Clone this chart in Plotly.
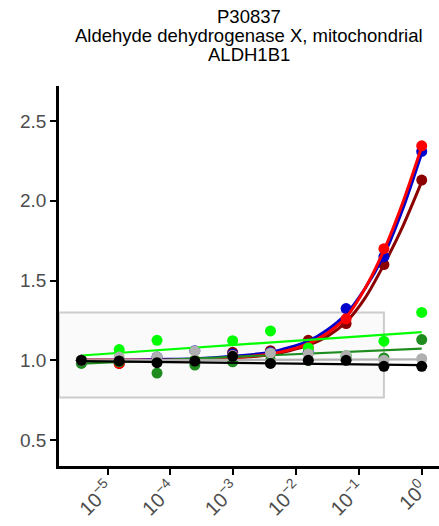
import plotly.graph_objects as go

# ---- data ----
dose_exp = [-9, -8, -7, -6, -5, -4, -3, -2, -1, 0]          # concentration = 4**exp
curve_exp = [-9, -8, -7, -6, -5, -4, -3.5, -3, -2.5, -2, -1.5, -1, -0.5, 0]

blue_pts    = [1.00, 1.00, 1.02, 1.06, 1.04, 1.05, 1.05, 1.324, 1.65, 2.31]
red_pts     = [1.00, 0.98, 1.00, 1.00, 1.03, 1.04, 1.08, 1.26, 1.70, 2.345]
darkred_pts = [1.00, 0.98, 1.00, 1.00, 1.05, 1.06, 1.125, 1.23, 1.60, 2.13]
lime_pts    = [1.00, 1.067, 1.125, 1.00, 1.123, 1.184, 1.077, 1.03, 1.12, 1.30]
green_pts   = [0.98, 0.99, 0.92, 0.97, 0.99, 1.00, 1.00, 1.02, 1.015, 1.13]
grey_pts    = [1.00, 1.02, 1.02, 1.058, 1.03, 1.046, 1.04, 1.03, 1.00, 1.01]
black_pts   = [1.00, 0.996, 0.985, 0.995, 1.025, 0.98, 1.00, 1.00, 0.962, 0.962]

blue_curve    = [1.00, 1.00, 1.005, 1.01, 1.025, 1.05, 1.08, 1.12, 1.19, 1.29, 1.45, 1.66, 1.95, 2.30]
red_curve     = [1.00, 1.00, 1.00, 1.005, 1.015, 1.04, 1.065, 1.105, 1.17, 1.27, 1.45, 1.69, 1.99, 2.34]
darkred_curve = [1.00, 1.00, 1.00, 1.005, 1.015, 1.035, 1.06, 1.095, 1.15, 1.24, 1.39, 1.60, 1.84, 2.12]

line_exp   = [-9, 0]
lime_line  = [1.03, 1.177]
green_line = [0.979, 1.073]
grey_line  = [1.00, 1.006]
black_line = [0.995, 0.969]

box_x_right_exp = -1
box_y = [0.766, 1.299]

tick_exp = [-5, -4, -3, -2, -1, 0]
tick_text = ["10<sup>−5</sup>", "10<sup>−4</sup>", "10<sup>−3</sup>",
             "10<sup>−2</sup>", "10<sup>−1</sup>", "10<sup>0</sup>"]
y_ticks = [0.5, 1.0, 1.5, 2.0, 2.5]
y_tick_text = ["0.5", "1.0", "1.5", "2.0", "2.5"]

title_lines = ["P30837", "Aldehyde dehydrogenase X, mitochondrial", "ALDH1B1"]

# ---- figure ----
dose = [4.0 ** e for e in dose_exp]
cx = [4.0 ** e for e in curve_exp]
lx = [4.0 ** e for e in line_exp]

X_RANGE = [-5.775, 0.275]
Y_RANGE = [0.337, 2.72]
FONT = "Liberation Sans, Arial, sans-serif"

fig = go.Figure()

fig.add_shape(type="rect", xref="x", yref="y",
              x0=10 ** X_RANGE[0], x1=4.0 ** box_x_right_exp,
              y0=box_y[0], y1=box_y[1],
              fillcolor="rgba(240,240,240,0.35)",
              line=dict(color="#cccccc", width=2), layer="below")

series = [
    ("darkred", "#8b0000", darkred_pts, darkred_curve, None),
    ("blue", "#0000cd", blue_pts, blue_curve, None),
    ("red", "#ff0000", red_pts, red_curve, None),
    ("lime", "#00ff00", lime_pts, None, lime_line),
    ("green", "#1e8c1e", green_pts, None, green_line),
    ("grey", "#b0b0b0", grey_pts, None, grey_line),
    ("black", "#000000", black_pts, None, black_line),
]

for name, col, pts, curve, line in series:
    if curve is not None:
        fig.add_trace(go.Scatter(x=cx, y=curve, mode="lines",
                                 line=dict(color=col, width=3, shape="spline", smoothing=0.8),
                                 showlegend=False, hoverinfo="skip"))
    if line is not None:
        fig.add_trace(go.Scatter(x=lx, y=line, mode="lines",
                                 line=dict(color=col, width=2.2),
                                 showlegend=False, hoverinfo="skip"))
    fig.add_trace(go.Scatter(x=dose, y=pts, mode="markers",
                             marker=dict(color=col, size=11, line=dict(width=0)),
                             showlegend=False, name=name))

# title: three centred lines above the plot area
PLOT_TOP = 86
for i, txt in enumerate(title_lines):
    centre_y = 16 + 19 * i
    fig.add_annotation(text=txt, xref="paper", yref="paper", x=0.5, y=1,
                       xanchor="center", yanchor="middle",
                       yshift=PLOT_TOP - centre_y, showarrow=False,
                       font=dict(family=FONT, size=18.5, color="#000000"))

fig.update_layout(
    width=439, height=526,
    margin=dict(l=59, r=0, t=86, b=60),
    paper_bgcolor="white", plot_bgcolor="white",
    font=dict(family=FONT, color="#000000"),
)

fig.update_xaxes(type="log", range=X_RANGE,
                 tickvals=[10.0 ** e for e in tick_exp], ticktext=tick_text,
                 tickangle=-45, tickfont=dict(size=20, color="#4d4d4d"),
                 ticklabelstandoff=-6,
                 showgrid=False, zeroline=False,
                 showline=True, linecolor="#000000", linewidth=2.5,
                 ticks="outside", ticklen=6, tickwidth=2, tickcolor="#000000")
fig.update_yaxes(range=Y_RANGE, tickvals=y_ticks, ticktext=y_tick_text,
                 tickfont=dict(size=19, color="#4d4d4d"),
                 showgrid=False, zeroline=False,
                 showline=True, linecolor="#000000", linewidth=2.5,
                 ticks="outside", ticklen=6, tickwidth=2, tickcolor="#000000")

fig.write_html("out.html", config={"displayModeBar": False},
               post_script="document.body.style.margin='0';")
